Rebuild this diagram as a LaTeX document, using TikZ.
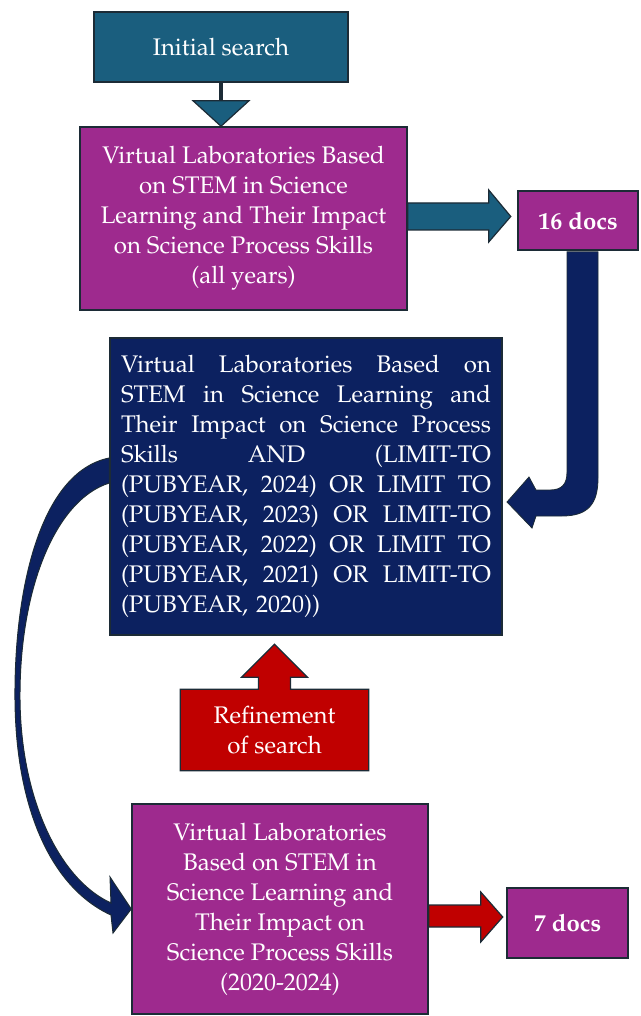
\documentclass[tikz,border=0pt]{standalone}
\usepackage[T1]{fontenc}
\usepackage{mathpazo}
\usetikzlibrary{calc,backgrounds}

\definecolor{tealbox}{HTML}{1A5E7E}
\definecolor{magentabox}{HTML}{9E2A8E}
\definecolor{navybox}{HTML}{0C2160}
\definecolor{redbox}{HTML}{C00000}
\definecolor{edgeline}{HTML}{1C2B36}

\newcommand{\jline}[1]{\makebox[370pt][s]{\spaceskip=6pt plus 1fil\relax #1}}

\begin{document}
\begin{tikzpicture}[x=1pt,y=-1pt]
       \tikzset{box/.style={rectangle, draw=edgeline, line width=1.5pt, text=white,
                inner sep=0pt, align=center, font=\fontsize{24}{30}\selectfont}}
       \tikzset{initbox/.style={box, fill=tealbox, minimum width=254pt, minimum height=70pt}}
       \tikzset{searchbox/.style={box, fill=magentabox}}
       \tikzset{docsbox/.style={box, fill=magentabox, font=\fontsize{24}{30}\selectfont\bfseries}}
       \tikzset{querybox/.style={box, fill=navybox, align=left, text width=370pt,
                minimum width=392pt, minimum height=297pt}}
       \tikzset{refinetext/.style={box, draw=none, minimum width=187pt, minimum height=80pt}}
       \tikzset{blockarrow/.style={draw=edgeline, line width=1.2pt, line join=miter}}

        \useasboundingbox (0,0) rectangle (640,1016);

        \node[initbox] (init) at (221,47) {Initial search};
        \node[searchbox, minimum width=327pt, minimum height=183pt] (allyears) at (243.5,218.5)
             {Virtual Laboratories Based\\on STEM in Science\\Learning and Their Impact\\on Science Process Skills\\(all years)};
        \node[docsbox, minimum width=120pt, minimum height=59pt] (docs16) at (578,220.5) {16 docs};
        \node[querybox] (query) at (306,486.5)
             {\jline{Virtual Laboratories Based on}\\
              \jline{STEM in Science Learning and}\\
              \jline{Their Impact on Science Process}\\
              \jline{Skills AND (LIMIT-TO}\\
              \jline{(PUBYEAR, 2024) OR LIMIT TO}\\
              \jline{(PUBYEAR, 2023) OR LIMIT-TO}\\
              \jline{(PUBYEAR, 2022) OR LIMIT TO}\\
              \jline{(PUBYEAR, 2021) OR LIMIT-TO}\\
              (PUBYEAR, 2020))};
        \node[refinetext] (refine) at (274.5,730) {Refinement\\of search};
        \node[searchbox, minimum width=296pt, minimum height=210pt] (lastyears) at (280,909)
             {Virtual Laboratories\\Based on STEM in\\Science Learning and\\Their Impact on\\Science Process Skills\\(2020-2024)};
        \node[docsbox, minimum width=121pt, minimum height=70pt] (docs7) at (567.5,923) {7 docs};

        % initial search -> first query
        \draw[draw=edgeline, line width=3.5pt] (init.south) -- ++(0,18) coordinate (tribase);
        \filldraw[blockarrow, fill=tealbox] ($(tribase)+(-28,0)$) -- ($(tribase)+(28,0)$)
             -- (allyears.north -| init.south) -- cycle;

        % first query -> 16 docs
        \filldraw[blockarrow, fill=tealbox] ($(allyears.east)+(0,-15.5)$) -- ++(81,0) -- ++(0,-13)
             -- ++(22,26.5) -- ++(-22,25.5) -- ++(0,-12) -- ++(-81,0) -- cycle;

        % 16 docs -> refined query
        \filldraw[blockarrow, fill=navybox, line width=0.8pt] ($(docs16.south)+(-11,1)$) -- (567,472)
             .. controls (567,484) and (562,490) .. (550,490) -- (536,490) -- (529,477)
             -- (507,502) -- (532,528) -- (536,516) -- (562,516)
             .. controls (588,516) and (598,504) .. (598,478) -- ($(docs16.south)+(20,1)$) -- cycle;

        % refined query -> last query
        \filldraw[blockarrow, fill=navybox, line width=1pt] ($(query.west)+(0,-28.5)$)
             .. controls (40,472) and (14,590) .. (15,700)
             .. controls (16,810) and (52,888) .. (111,915) -- (113,933)
             -- (lastyears.west) -- (110,877) -- (111,903)
             .. controls (60,880) and (21,800) .. (20,700)
             .. controls (19,590) and (55,500) .. ($(query.west)+(0,-3.5)$) -- cycle;

        % refinement callout
        \begin{scope}[on background layer]
        \filldraw[blockarrow, fill=redbox] (refine.south west) -- (refine.north west)
             -- ($(refine.north)+(-16,0)$) -- ++(0,-12) -- ++(-17,0) -- ($(refine.north)+(0,-45)$)
             -- ($(refine.north)+(33,-12)$) -- ++(-17,0) -- ($(refine.north)+(16,0)$)
             -- (refine.north east) -- (refine.south east) -- cycle;
        \end{scope}

        % last query -> 7 docs
        \filldraw[blockarrow, fill=redbox] ($(lastyears.east)+(0,-4)$) -- ++(52,0) -- ++(0,-13)
             -- ++(22,25) -- ++(-22,25) -- ++(0,-15) -- ++(-52,0) -- cycle;

\end{tikzpicture}
\end{document}
